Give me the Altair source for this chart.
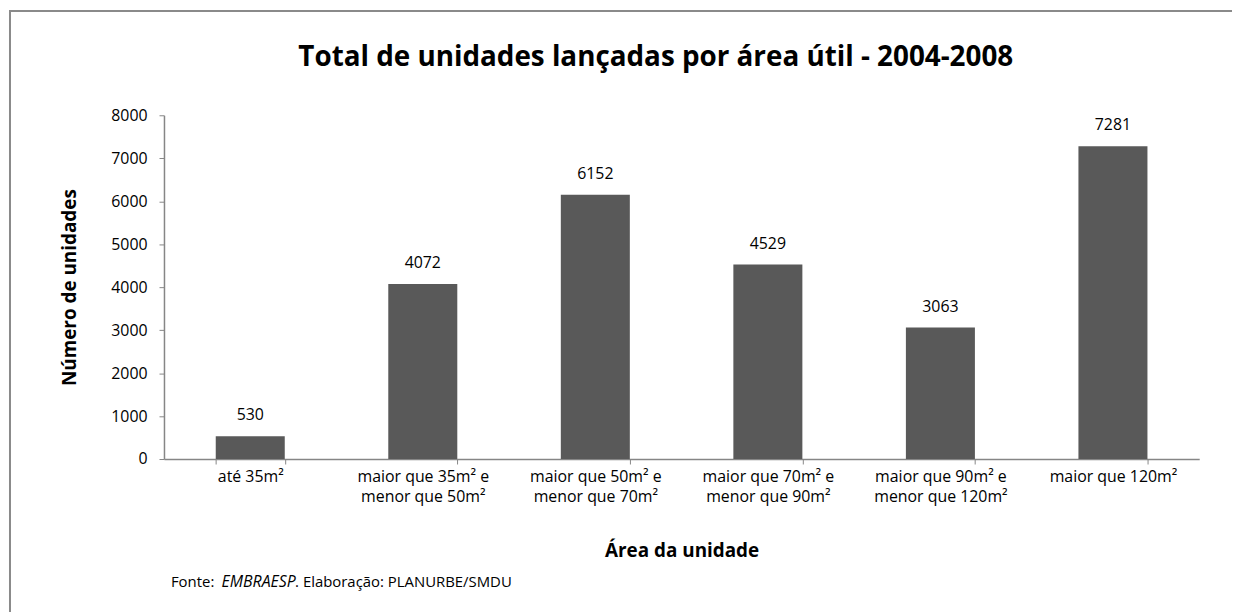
import altair as alt
import pandas as pd

categorias = [
    "até 35m²",
    "maior que 35m² e\nmenor que 50m²",
    "maior que 50m² e\nmenor que 70m²",
    "maior que 70m² e\nmenor que 90m²",
    "maior que 90m² e\nmenor que 120m²",
    "maior que 120m²",
]
unidades = [530, 4072, 6152, 4529, 3063, 7281]
y_ticks = [0, 1000, 2000, 3000, 4000, 5000, 6000, 7000, 8000]

titulo = "Total de unidades lançadas por área útil - 2004-2008"
titulo_x = "Área da unidade"
titulo_y = "Número de unidades"
fonte_1 = "Fonte: "
fonte_2 = "EMBRAESP"
fonte_3 = ". Elaboração: PLANURBE/SMDU"

df = pd.DataFrame({"cat": categorias, "val": unidades})

FONT = "Open Sans"
W, H = 1042, 346
LBL = 16

x_enc = alt.X(
    "cat:N", sort=None, title=titulo_x,
    scale=alt.Scale(paddingInner=0.6, paddingOuter=0.3),
    axis=alt.Axis(
        labelAngle=0, labelExpr="split(datum.label, '\\n')",
        labelFontSize=LBL, labelFont=FONT, labelColor="#000",
        labelPadding=5, labelLineHeight=20, labelBaseline="top",
        tickBand="extent", tickSize=5, tickColor="#868686",
        domainColor="#868686", domainWidth=1.5,
        titleFont=FONT, titleFontSize=19, titleFontWeight="bold",
        titleColor="#000", titlePadding=37,
    ),
)
y_enc = alt.Y(
    "val:Q", title=titulo_y,
    scale=alt.Scale(domain=[0, 8000], nice=False),
    axis=alt.Axis(
        values=y_ticks, format="d", grid=False,
        labelFontSize=LBL, labelFont=FONT, labelColor="#000", labelPadding=12,
        tickSize=5, tickColor="#868686", domainColor="#868686", domainWidth=1.5,
        titleFont=FONT, titleFontSize=19, titleFontWeight="bold",
        titleColor="#000", titlePadding=31,
    ),
)

bars = alt.Chart(df).mark_bar(color="#595959").encode(x=x_enc, y=y_enc)
labels = alt.Chart(df).mark_text(
    dy=-16, baseline="alphabetic", font=FONT, fontSize=LBL, color="#000"
).encode(x=alt.X("cat:N", sort=None), y="val:Q", text=alt.Text("val:Q", format="d"))

one = pd.DataFrame({"a": [0]})
frame = alt.Chart(one).mark_rect(
    fill=None, stroke="#8a8a8a", strokeWidth=2
).encode(x=alt.value(-155), x2=alt.value(1300), y=alt.value(-105), y2=alt.value(700))

title_mark = alt.Chart(one).mark_text(
    align="center", baseline="alphabetic", font=FONT, fontSize=28,
    fontWeight="bold", color="#000"
).encode(x=alt.value(495), y=alt.value(-50), text=alt.value(titulo))

src1 = alt.Chart(one).mark_text(
    align="left", baseline="alphabetic", font=FONT, fontSize=15, color="#000"
).encode(x=alt.value(7), y=alt.value(475), text=alt.value(fonte_1))
src2 = alt.Chart(one).mark_text(
    align="left", baseline="alphabetic", font=FONT, fontSize=16, color="#000",
    fontStyle="italic"
).encode(x=alt.value(58), y=alt.value(475), text=alt.value(fonte_2))
src3 = alt.Chart(one).mark_text(
    align="left", baseline="alphabetic", font=FONT, fontSize=15, color="#000"
).encode(x=alt.value(132), y=alt.value(475), text=alt.value(fonte_3))

chart = alt.layer(frame, bars, labels, title_mark, src1, src2, src3).properties(
    width=W, height=H,
    autosize=alt.AutoSizeParams(type="none"),
    padding={"left": 157, "top": 106, "right": 33, "bottom": 152},
).configure(background="white", view=alt.ViewConfig(stroke=None))

chart.save("out.html", embed_options={"renderer": "svg", "actions": False})
